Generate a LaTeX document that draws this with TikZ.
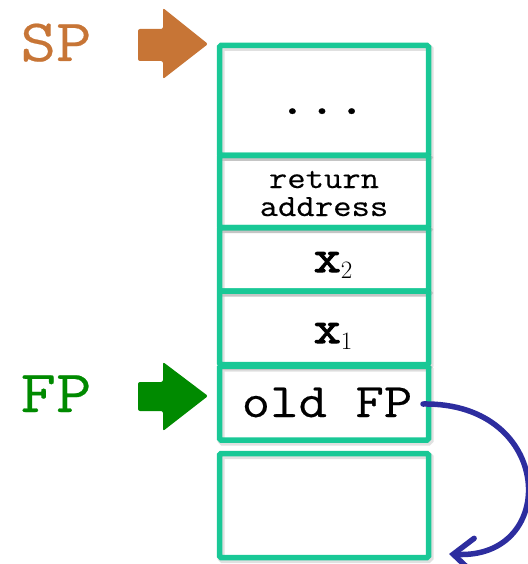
\documentclass[tikz,border=0pt]{standalone}
\usepackage{fontspec}
\newfontfamily\cour{Latin Modern Mono}[FakeStretch=1.15, FakeBold=0.4]
\newfontfamily\courbold{Latin Modern Mono}[FakeStretch=1.15, FakeBold=2.2]
\usetikzlibrary{arrows.meta}
\definecolor{cellgreen}{HTML}{19C896}
\definecolor{spcol}{HTML}{C77536}
\definecolor{fpcol}{HTML}{008A00}
\definecolor{ptrcol}{HTML}{2D2D9F}
\newcommand{\cfont}[1]{\cour\fontsize{#1}{#1}\selectfont}
\newcommand{\varsub}[1]{{\courbold x}\raisebox{-6pt}{\fontsize{25}{25}\selectfont\rmfamily #1}}
\begin{document}
\begin{tikzpicture}[x=1pt,y=-1pt,
  cell/.style={draw=cellgreen, line width=5.5pt, rounded corners=1.5pt,
    minimum width=209pt, inner sep=0pt,
    preaction={draw=black, opacity=0.12, line width=7pt,
      transform canvas={xshift=1.5pt,yshift=-2pt}}},
  label/.style={inner sep=0pt, text=black, anchor=base},
  regname/.style={inner sep=0pt, anchor=base, font=\cfont{60}},
  pointer/.style={rounded corners=2pt}
]
\useasboundingbox (0,0) rectangle (527,564);

% stack cells, top to bottom
\node[cell, minimum height=110pt] (c1) at (324,100.5) {};
\node[cell, minimum height=72pt]  (c2) at (324,191.5) {};
\node[cell, minimum height=63.5pt] (c3) at (324,259.25) {};
\node[cell, minimum height=73.5pt] (c4) at (324,327.75) {};
\node[cell, minimum height=74pt]  (c5) at (324,403) {};
\node[cell, minimum height=104pt] (c6) at (324,505.5) {};

% cell contents
\node[label, font=\cfont{50}] (dots) at (322,114) {...};
\node[label, font=\cfont{31}] (ret) at (324,188) {return};
\node[label, font=\cfont{31}] (addr) at (324,216) {address};
\node[label, font=\cfont{46}] (x2) at (333,272) {\varsub{2}};
\node[label, font=\cfont{46}] (x1) at (333,343) {\varsub{1}};
\node[label, font=\cfont{48}] (oldfp) at (327,417) {old FP};

% register names
\node[regname, text=spcol] (sp) at (56,61) {SP};
\node[regname, text=fpcol] (fp) at (56,412) {FP};

% register pointers
\fill[spcol, pointer] (138,29) -- (163,29) -- (163,8) -- (208,44) -- (163,79) -- (163,61) -- (138,61) -- cycle;
\fill[fpcol, pointer] (138,382) -- (163,382) -- (163,362) -- (208,396) -- (163,431) -- (163,411) -- (138,411) -- cycle;

% saved frame pointer link
\coordinate (fpout) at (423,404);
\coordinate (fptip) at (449,554);
\draw[ptrcol, line width=5.5pt, line cap=round,
  -{Straight Barb[length=20pt,width=34pt,line cap=round]}]
  (fpout) .. controls (555,402) and (560,560) .. (fptip);
\end{tikzpicture}
\end{document}
